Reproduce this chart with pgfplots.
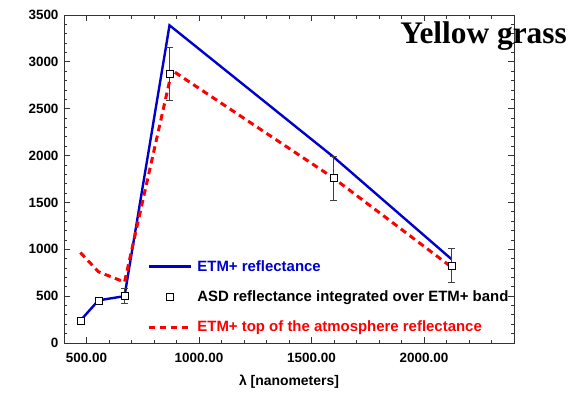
\documentclass[border=0pt]{standalone}
\usepackage{fontspec}
\setmainfont{Liberation Sans}
\newfontfamily\titlefont{Liberation Serif}
\usepackage{pgfplots}
\pgfplotsset{compat=1.18}
\definecolor{etmblue}{RGB}{0,0,205}
\definecolor{toared}{RGB}{255,0,0}
\pgfplotsset{
  mylinelegend/.style={legend image code/.code={\draw[##1] (0bp,0bp) -- (42bp,0bp);}},
  mymarklegend/.style={legend image code/.code={\draw[##1] plot coordinates {(21bp,0bp)};}},
}
\begin{document}
\begin{tikzpicture}
\begin{axis}[
  scale only axis,
  width=450bp, height=328bp,
  clip=false,
  xmin=400, xmax=2400, ymin=0, ymax=3500,
  xtick={500,1000,1500,2000},
  minor xtick={400,600,700,800,900,1100,1200,1300,1400,1600,1700,1800,1900,2100,2200,2300},
  ytick={0,500,1000,1500,2000,2500,3000,3500},
  minor ytick={100,200,...,3400},
  tick align=inside,
  tick pos=both,
  xticklabel pos=lower, yticklabel pos=left,
  major tick length=6bp, minor tick length=3.5bp,
  axis line style={black!80, line width=0.9pt},
  every tick/.style={black!80, line width=0.8pt},
  /pgf/number format/assume math mode=true,
  xticklabel style={yshift=-7bp, /pgf/number format/fixed, /pgf/number format/fixed zerofill, /pgf/number format/precision=2, /pgf/number format/1000 sep={}},
  yticklabel style={xshift=-2bp, /pgf/number format/fixed, /pgf/number format/1000 sep={}},
  ticklabel style={font=\fontsize{13.5}{15}\selectfont\bfseries},
  scaled ticks=false,
  xlabel={λ [nanometers]},
  xlabel style={font=\fontsize{14}{16}\selectfont\bfseries, yshift=-5bp},
  legend style={draw=none, fill=none, at={(0.185,0.256)}, anchor=north west,
    font=\fontsize{15}{17}\selectfont\bfseries, row sep=16bp, inner sep=0pt,
    nodes={inner sep=1bp, inner xsep=5bp}},
  legend cell align=left,
]
\coordinate (sw) at (rel axis cs:0,0);
\addplot[etmblue, line width=2.4pt, mark=none, mylinelegend] coordinates {
  (473,240) (553,455) (669,500) (869,3390) (1598,1985) (2122,895)
};
\addlegendentry{\textcolor{etmblue}{ETM+ reflectance}}
\addlegendimage{black, only marks, mark=square*, mark size=3.5bp, mark options={line width=0.7pt, fill=white}, mymarklegend}
\addlegendentry{ASD reflectance integrated over ETM+ band}
\addplot[toared, line width=3pt, dash pattern=on 6.5bp off 4.5bp, mark=none, mylinelegend] coordinates {
  (473,965) (553,760) (669,650) (880,2910) (1598,1760) (2122,810)
};
\addlegendentry{\textcolor{toared}{ETM+ top of the atmosphere reflectance}}
\addplot[black, only marks, mark=square*, mark size=3.5bp, mark options={line width=0.7pt, fill=white},
  forget plot,
  error bars/.cd, y dir=both, y explicit,
  error bar style={black!75, line width=0.8pt},
  error mark options={rotate=90, mark size=3.5bp, black!75, line width=0.8pt}]
  coordinates {
  (473,240) +- (0,15)
  (553,450) +- (0,25)
  (669,505) +- (0,80)
  (869,2870) +- (0,280)
  (1598,1760) +- (0,235)
  (2122,825) +- (0,180)
};
\node[anchor=base west, inner sep=0pt, font=\titlefont\fontsize{31.5}{34}\selectfont\bfseries]
  at (rel axis cs:0.747,0.912) {Yellow grass};
\end{axis}
\pgfresetboundingbox
\path (sw) ++(-64bp,-57bp) rectangle ++(569bp,400bp);
\end{tikzpicture}
\end{document}
